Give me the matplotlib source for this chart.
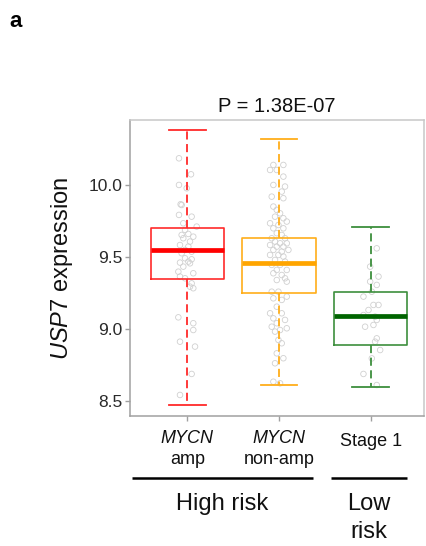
import numpy as np
import matplotlib.pyplot as plt
from matplotlib.transforms import blended_transform_factory

plt.rcParams['font.family'] = ['Liberation Sans', 'DejaVu Sans']
plt.rcParams['mathtext.fontset'] = 'custom'
plt.rcParams['mathtext.it'] = 'Liberation Sans:italic'
plt.rcParams['mathtext.rm'] = 'Liberation Sans'

# box statistics (USP7 expression)
group_top = ['MYCN', 'MYCN', 'Stage 1']
group_bottom = ['amp', 'non-amp', '']
whislo = [8.47, 8.61, 8.60]
q1 = [9.35, 9.25, 8.89]
med = [9.55, 9.46, 9.09]
q3 = [9.70, 9.63, 9.26]
whishi = [10.38, 10.32, 9.71]
p_text = 'P = 1.38E-07'

# individual samples: jitter offset, value
amp_off = [-0.091, 0.040, -0.091, -0.007, -0.073, -0.062, -0.091, 0.047, -0.044, 0.102,
           -0.025, -0.062, 0.011, 0.065, -0.044, 0.029, -0.080, 0.011, -0.025, 0.047,
           -0.062, -0.025, 0.047, -0.080, 0.011, 0.029, -0.044, -0.098, 0.065, -0.080,
           -0.025, 0.047, 0.065, 0.029, -0.098, 0.065, 0.065, -0.080, 0.084, 0.047, -0.080]
amp_val = [10.185, 10.074, 10.000, 9.977, 9.866, 9.861, 9.792, 9.780, 9.734, 9.711,
           9.688, 9.653, 9.660, 9.641, 9.630, 9.607, 9.583, 9.572, 9.549, 9.537,
           9.526, 9.491, 9.484, 9.461, 9.468, 9.456, 9.433, 9.398, 9.387, 9.364,
           9.352, 9.317, 9.283, 9.294, 9.081, 9.040, 8.993, 8.912, 8.878, 8.688, 8.542]

nonamp_off = [-0.062, 0.047, -0.098, -0.025, 0.047, -0.062, 0.065, 0.029, -0.080, 0.047,
              -0.062, -0.025, 0.011, -0.044, 0.047, 0.084, -0.098, -0.007, -0.062, 0.047,
              -0.025, 0.029, -0.080, 0.065, -0.044, 0.011, 0.084, -0.098, -0.025, 0.047,
              -0.062, 0.029, 0.102, -0.007, -0.098, 0.047, -0.044, 0.065, -0.080, 0.011,
              -0.025, 0.084, -0.062, 0.029, 0.065, -0.025, 0.084, -0.080, -0.007, 0.084,
              -0.062, 0.029, -0.025, -0.098, 0.029, -0.062, 0.065, -0.025, -0.080, 0.011,
              0.084, -0.044, -0.007, 0.029, -0.025, 0.047, -0.044, -0.062, 0.011]
nonamp_val = [10.139, 10.139, 10.104, 10.104, 10.058, 10.000, 9.989, 9.954, 9.919, 9.908,
              9.850, 9.827, 9.803, 9.780, 9.769, 9.746, 9.734, 9.722, 9.699, 9.699,
              9.665, 9.653, 9.630, 9.630, 9.607, 9.595, 9.595, 9.583, 9.572, 9.572,
              9.549, 9.537, 9.549, 9.514, 9.514, 9.503, 9.479, 9.468, 9.445, 9.445,
              9.410, 9.410, 9.387, 9.375, 9.352, 9.340, 9.329, 9.259, 9.259, 9.225,
              9.213, 9.202, 9.155, 9.109, 9.109, 9.074, 9.063, 9.040, 9.016, 8.993,
              9.005, 8.982, 8.924, 8.901, 8.831, 8.797, 8.762, 8.634, 8.623]

stage1_off = [0.065, -0.007, 0.084, -0.007, 0.065, 0.011, -0.080, 0.029, 0.084, -0.025,
              -0.080, 0.047, 0.065, -0.062, 0.029, 0.065, 0.047, 0.102, 0.011, -0.080, 0.065]
stage1_val = [9.560, 9.433, 9.364, 9.329, 9.306, 9.259, 9.225, 9.167, 9.167, 9.132,
              9.097, 9.086, 9.063, 9.016, 9.028, 8.935, 8.912, 8.854, 8.796, 8.688, 8.611]

box_colors = ['#ff2a2a', '#ffae1a', '#3d8f3d']
median_colors = ['#ff0000', '#ffa500', '#006400']

fig = plt.figure(figsize=(4.26, 5.46), dpi=100)
ax = fig.add_axes([130/426, 1 - 416/546, 294/426, 296/546])

positions = [1, 2, 3]
for pos, offs, vals in zip(positions, [amp_off, nonamp_off, stage1_off],
                           [amp_val, nonamp_val, stage1_val]):
   ax.scatter(pos + np.array(offs), vals, s=16, facecolors='none',
              edgecolors='#d0d0d0', linewidths=0.6, zorder=1)

stats = []
for i in range(3):
   stats.append({'whislo': whislo[i], 'q1': q1[i], 'med': med[i],
                 'q3': q3[i], 'whishi': whishi[i], 'fliers': []})

bp = ax.bxp(stats, positions=positions, widths=0.8, capwidths=0.4,
            showfliers=False, manage_ticks=False)
for i in range(3):
   c = box_colors[i]
   bp['boxes'][i].set(color=c, linewidth=1.2, zorder=2)
   bp['medians'][i].set(color=median_colors[i], linewidth=3.4, zorder=3,
                        solid_capstyle='butt')
   for w in bp['whiskers'][2*i:2*i+2]:
      w.set(color=c, linewidth=1.3, linestyle=(0, (4.5, 2.5)), zorder=2)
   for cap in bp['caps'][2*i:2*i+2]:
      cap.set(color=c, linewidth=1.3, zorder=2)

ax.set_xlim(0.375, 3.58)
ax.set_ylim(8.396, 10.451)
ax.set_yticks([8.5, 9.0, 9.5, 10.0])
ax.set_yticklabels(['8.5', '9.0', '9.5', '10.0'], fontsize=12.5, color='#2a2a2a')
ax.set_xticks(positions)
ax.set_xticklabels(['', '', ''])
ax.tick_params(axis='both', length=3.5, width=1.0, color='#a0a0a0', pad=2)
for side in ['left', 'bottom']:
   ax.spines[side].set_color('#a0a0a0')
for side in ['top', 'right']:
   ax.spines[side].set_color('#c8c8c8')
for side in ax.spines:
   ax.spines[side].set_linewidth(1.1)

bt = blended_transform_factory(ax.transData, fig.transFigure)

def fy(px):
   return 1 - px / 546

for i, pos in enumerate(positions):
   if group_bottom[i]:
      ax.text(pos, fy(442.7), group_top[i], transform=bt, ha='center', va='baseline',
              fontsize=13, style='italic', color='#111111')
      ax.text(pos, fy(464), group_bottom[i], transform=bt, ha='center', va='baseline',
              fontsize=13, color='#111111')
   else:
      ax.text(pos, fy(446), group_top[i], transform=bt, ha='center', va='baseline',
              fontsize=13, color='#111111')

ax.plot([0.397, 2.371], [fy(478), fy(478)], transform=bt, color='black',
        linewidth=1.8, clip_on=False, solid_capstyle='butt')
ax.plot([2.567, 3.395], [fy(478), fy(478)], transform=bt, color='black',
        linewidth=1.8, clip_on=False, solid_capstyle='butt')
ax.text(1.384, fy(510), 'High risk', transform=bt, ha='center', va='baseline',
        fontsize=17, color='#111111')
ax.text(2.98, fy(510), 'Low', transform=bt, ha='center', va='baseline',
        fontsize=17, color='#111111')
ax.text(2.98, fy(538), 'risk', transform=bt, ha='center', va='baseline',
        fontsize=17, color='#111111')

fig.text(277/426, fy(112), p_text, ha='center', va='baseline', fontsize=14.5,
         color='#111111')
fig.text(62/426, fy(268), r'$\it{USP7}$ expression', rotation=90, ha='center',
         va='center', fontsize=17, color='#111111')
fig.text(9/426, fy(27), 'a', fontsize=16, fontweight='bold', ha='left',
         va='baseline')

fig.savefig('out.png', dpi=100)
